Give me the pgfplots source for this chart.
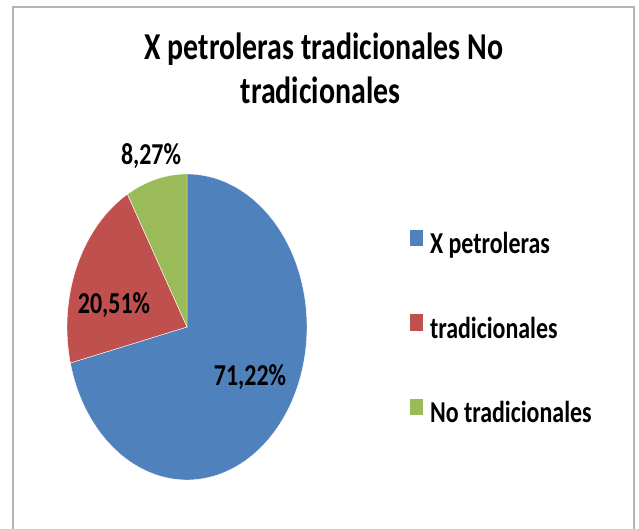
\documentclass[border=0pt]{standalone}
\usepackage{fontspec}
\setmainfont{Carlito}
\usepackage{graphicx}
\usepackage{pgfplots}
\pgfplotsset{compat=1.18}

\definecolor{pieblue}{HTML}{4F81BD}
\definecolor{piered}{HTML}{C0504D}
\definecolor{piegreen}{HTML}{9BBB59}
\definecolor{frame}{HTML}{B4B4B4}

% text in the reference is stretched vertically
\newcommand{\tall}[1]{\scalebox{1}[1.27]{#1}}

\begin{document}
\begin{tikzpicture}[x=1bp,y=1bp]
\useasboundingbox (0,0) rectangle (639,529);
\draw[frame, line width=1.6bp] (13,-20) rectangle (634,522);

% slice shares (%), clockwise from 12 o'clock
\pgfmathsetmacro\aA{90}
\pgfmathsetmacro\aB{90-71.22*3.6}
\pgfmathsetmacro\aC{\aB-20.51*3.6}
\pgfmathsetmacro\aD{\aC-8.27*3.6}

\begin{axis}[
    at={(187bp,202bp)}, anchor=center,
    scale only axis, width=240bp, height=306bp,
    xmin=-1, xmax=1, ymin=-1, ymax=1,
    hide axis,
    legend style={draw=none, fill=none, inner sep=0pt, outer sep=0pt,
        at={(axis description cs:1.4292,0.817)}, anchor=north west,
        font=\fontsize{24}{28}\selectfont\bfseries,
        row sep=55.5bp,
        nodes={inner sep=0pt, text height=20bp, text depth=5bp},
        /tikz/every odd column/.append style={column sep=7.5bp}},
    legend cell align=left,
    legend image code/.code={\fill[#1, draw=none] (0bp,0bp) rectangle (12.5bp,16.5bp);},
]
\addplot[fill=pieblue, draw=white, line width=0.4bp, domain=\aB:\aA, samples=120]
    ({cos(x)},{sin(x)}) -- (axis cs:0,0) -- cycle;
\addlegendentry{\tall{X petroleras}}
\addplot[fill=piered, draw=white, line width=0.4bp, domain=\aC:\aB, samples=60]
    ({cos(x)},{sin(x)}) -- (axis cs:0,0) -- cycle;
\addlegendentry{\tall{tradicionales}}
\addplot[fill=piegreen, draw=white, line width=0.4bp, domain=\aD:\aC, samples=30]
    ({cos(x)},{sin(x)}) -- (axis cs:0,0) -- cycle;
\addlegendentry{\tall{No tradicionales}}
\end{axis}

\begin{scope}[font=\fontsize{24}{28}\selectfont\bfseries]
\node[anchor=base, inner sep=0pt] at (250,143) {\tall{71,22\%}};
\node[anchor=base, inner sep=0pt] at (114,215.5) {\tall{20,51\%}};
\node[anchor=base, inner sep=0pt] at (151,364) {\tall{8,27\%}};
\end{scope}

\begin{scope}[font=\fontsize{30}{36}\selectfont\bfseries]
\node[anchor=base, inner sep=0pt] at (323.8,469.4) {\tall{X petroleras tradicionales No}};
\node[anchor=base, inner sep=0pt] at (320.5,425) {\tall{tradicionales}};
\end{scope}
\end{tikzpicture}
\end{document}
